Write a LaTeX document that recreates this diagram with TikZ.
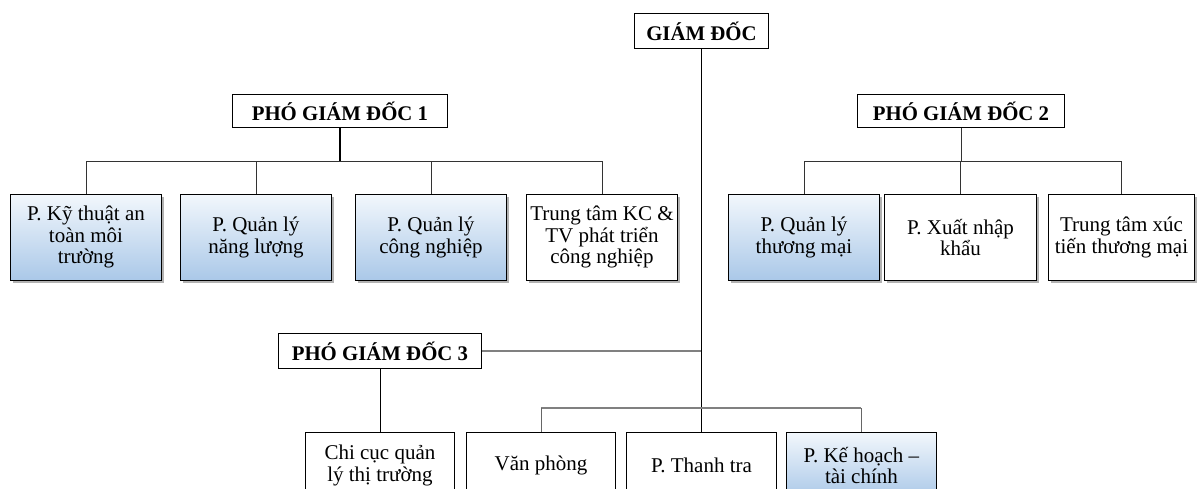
\documentclass[tikz,border=0pt]{standalone}
\usepackage{fontspec}
\setmainfont{Liberation Serif}
\usetikzlibrary{shadows}

\definecolor{boxtop}{RGB}{242,247,252}
\definecolor{boxbot}{RGB}{170,200,232}

\tikzset{
  unit/.style={draw=black, line width=0.9pt, fill=white, align=center,
    font=\fontsize{21}{21.5}\selectfont, inner sep=0pt, anchor=north west,
    minimum width=151pt, minimum height=86pt},
  lowunit/.style={unit, minimum width=149pt, minimum height=66pt},
  blueunit/.style={top color=boxtop, bottom color=boxbot},
  shade/.style={drop shadow={shadow xshift=2.5pt, shadow yshift=-2.5pt,
    fill=black, opacity=0.3}},
  head/.style={draw=black, line width=0.9pt, fill=white, anchor=north west,
    font=\bfseries\fontsize{20.8}{22}\selectfont, inner sep=0pt},
  link/.style={draw=black!80, line width=0.9pt},
  mainlink/.style={draw=black, line width=1.2pt},
  greylink/.style={draw=black!50, line width=1.6pt},
}

\begin{document}
\begin{tikzpicture}[x=1pt, y=-1pt]
\useasboundingbox (0,0) rectangle (1198,488);
\clip (0,0) rectangle (1198,488);

% heads
\node[head, minimum width=134pt, minimum height=35pt] (gd) at (634,13) {GIÁM ĐỐC};
\node[head, minimum width=215pt, minimum height=33pt] (p1) at (232,94) {PHÓ GIÁM ĐỐC 1};
\node[head, minimum width=207pt, minimum height=33pt] (p2) at (857,94) {PHÓ GIÁM ĐỐC 2};
\node[head, minimum width=203pt, minimum height=35pt] (p3) at (278,333) {PHÓ GIÁM ĐỐC 3};

% units under deputy 1
\node[unit, blueunit, shade] (a1) at (10,194) {P. Kỹ thuật an\\toàn môi\\trường};
\node[unit, blueunit, shade] (a2) at (180,194) {P. Quản lý\\năng lượng};
\node[unit, blueunit, shade] (a3) at (355,194) {P. Quản lý\\công nghiệp};
\node[unit, shade] (a4) at (526,194) {Trung tâm KC \&\\TV phát triển\\công nghiệp};

% units under deputy 2
\node[unit, blueunit, shade] (b1) at (728,194) {P. Quản lý\\thương mại};
\node[unit, shade, minimum width=152pt] (b2) at (884,194) {P. Xuất nhập\\khẩu};
\node[unit, shade, minimum width=146pt] (b3) at (1048,194) {Trung tâm xúc\\tiến thương mại};

% bottom row
\node[lowunit] (c1) at (305,432) {Chi cục quản\\lý thị trường};
\node[lowunit] (c2) at (466,432) {Văn phòng};
\node[lowunit, minimum width=150pt] (c3) at (626,432) {P. Thanh tra};
\node[lowunit, blueunit, minimum width=150pt] (c4) at (786,432) {P. Kế hoạch –\\tài chính};

% bus levels
\coordinate (busA) at (0,161);
\coordinate (busB) at (0,408);

% director trunk and deputy 3
\draw[mainlink] (gd.south) -- (c3.north);
\draw[greylink] (p3.east) -- (gd.south |- p3.east);
\draw[link, draw=black] (p3.south) -- (c1.north);
\draw[greylink] (c2.north |- busB) -- (c4.north |- busB);
\draw[link, draw=black!60] (c2.north |- busB) -- (c2.north);
\draw[link, draw=black!60] (c4.north |- busB) -- (c4.north);

% deputy 1 tree
\draw[mainlink, line width=1.8pt] (p1.south) -- (p1.south |- busA);
\draw[link] (a1.north) -- (a1.north |- busA) -- (a4.north |- busA) -- (a4.north);
\draw[link] (a2.north) -- (a2.north |- busA);
\draw[link] (a3.north) -- (a3.north |- busA);

% deputy 2 tree
\draw[link] (p2.south) -- (p2.south |- busA);
\draw[link] (b1.north) -- (b1.north |- busA) -- (b3.north |- busA) -- (b3.north);
\draw[link] (b2.north) -- (b2.north |- busA);
\end{tikzpicture}
\end{document}
